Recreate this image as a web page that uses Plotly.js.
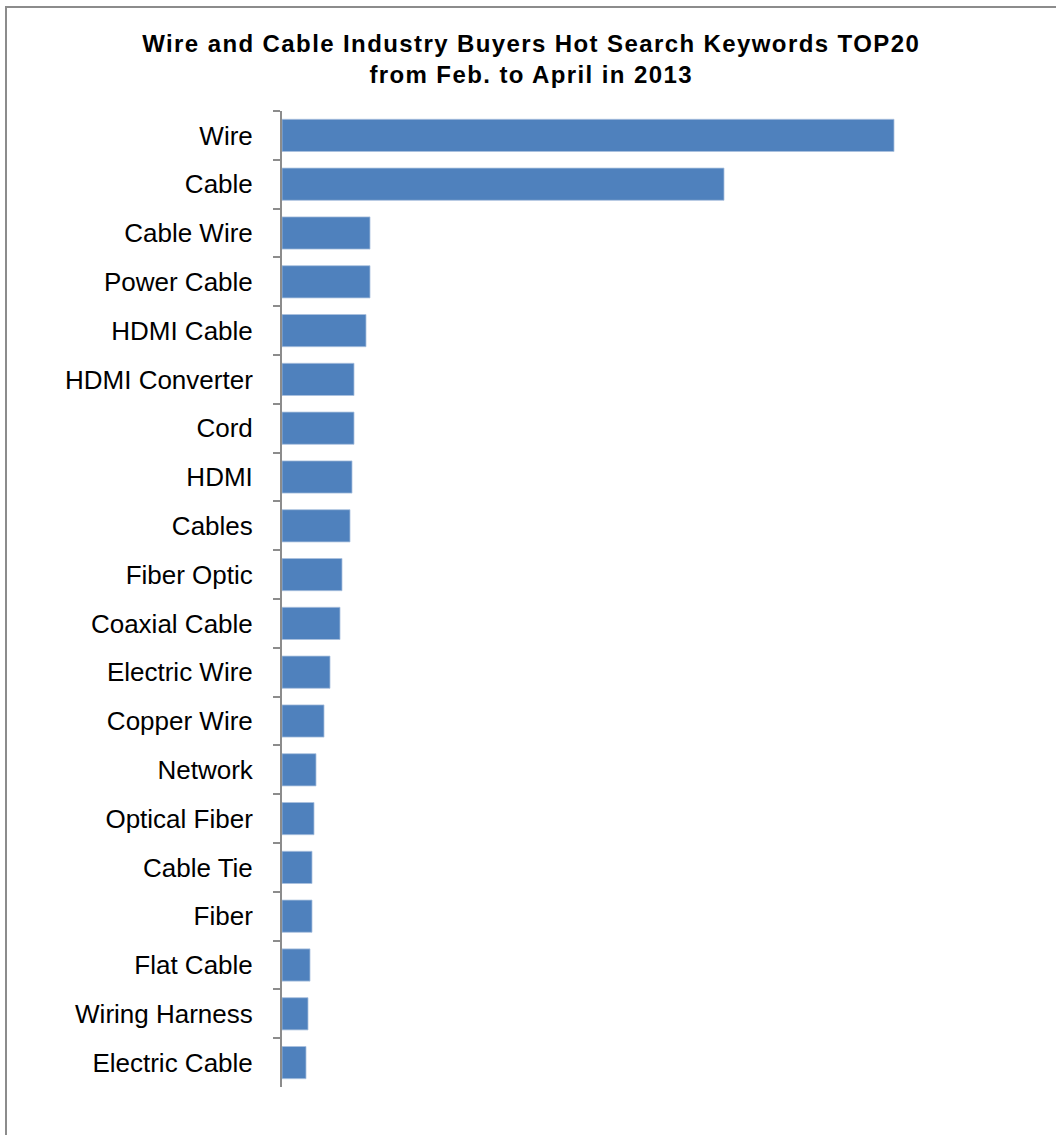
<!DOCTYPE html>
<html>
<head>
<meta charset="utf-8">
<script src="https://cdn.plot.ly/plotly-3.0.1.min.js"></script>
<style>
html, body { margin: 0; padding: 0; background: #fff; overflow: hidden; width: 1056px; height: 1135px; }
#chart { width: 1056px; height: 1135px; position: absolute; left: 0; top: 0; }
#hline { position: absolute; left: 5px; top: 6px; width: 1051px; height: 2px; background: #8c8c8c; pointer-events: none; }
#vline { position: absolute; left: 5px; top: 6px; width: 2px; height: 1129px; background: #8c8c8c; pointer-events: none; }
.gtitle { letter-spacing: 1.4px; }
</style>
</head>
<body>
<div id="chart"></div>
<div id="hline"></div>
<div id="vline"></div>
<script>
const keywords = ["Wire", "Cable", "Cable Wire", "Power Cable", "HDMI Cable", "HDMI Converter",
  "Cord", "HDMI", "Cables", "Fiber Optic", "Coaxial Cable", "Electric Wire", "Copper Wire",
  "Network", "Optical Fiber", "Cable Tie", "Fiber", "Flat Cable", "Wiring Harness", "Electric Cable"];
const searchVolume = [612, 442, 88, 88, 84, 72, 72, 70, 68, 60, 58, 48, 42, 34, 32, 30, 30, 28, 26, 24];
const chartTitle = "Wire and Cable Industry Buyers Hot Search Keywords TOP20<br>from Feb. to April in 2013";

const trace = {
  type: "bar",
  orientation: "h",
  y: keywords,
  x: searchVolume,
  marker: { color: "#4f81bd", line: { color: "#a9c0de", width: 0.8 } },
  hoverinfo: "y+x"
};

const layout = {
  width: 1056,
  height: 1135,
  paper_bgcolor: "#ffffff",
  plot_bgcolor: "#ffffff",
  margin: { l: 282, r: 16, t: 111, b: 48 },
  bargap: 0.34,
  showlegend: false,
  font: { family: "Liberation Sans, Arial, sans-serif", color: "#000" },
  title: {
    text: chartTitle,
    font: { family: "Liberation Sans, Arial, sans-serif", size: 24, color: "#000", weight: "bold" },
    x: 0.503, xanchor: "center",
    y: 0.954, yanchor: "middle"
  },
  xaxis: {
    visible: false,
    range: [0, 758],
    showgrid: false,
    zeroline: false
  },
  yaxis: {
    type: "category",
    autorange: "reversed",
    showline: true,
    linecolor: "#8c8c8c",
    linewidth: 2,
    ticks: "outside",
    tickson: "boundaries",
    ticklen: 7,
    tickwidth: 2,
    tickcolor: "#8c8c8c",
    ticklabelstandoff: 22,
    showgrid: false,
    zeroline: false,
    tickfont: { family: "Liberation Sans, Arial, sans-serif", size: 26, color: "#000" }
  }
};

Plotly.newPlot("chart", [trace], layout, { displayModeBar: false, staticPlot: true });
</script>
</body>
</html>
